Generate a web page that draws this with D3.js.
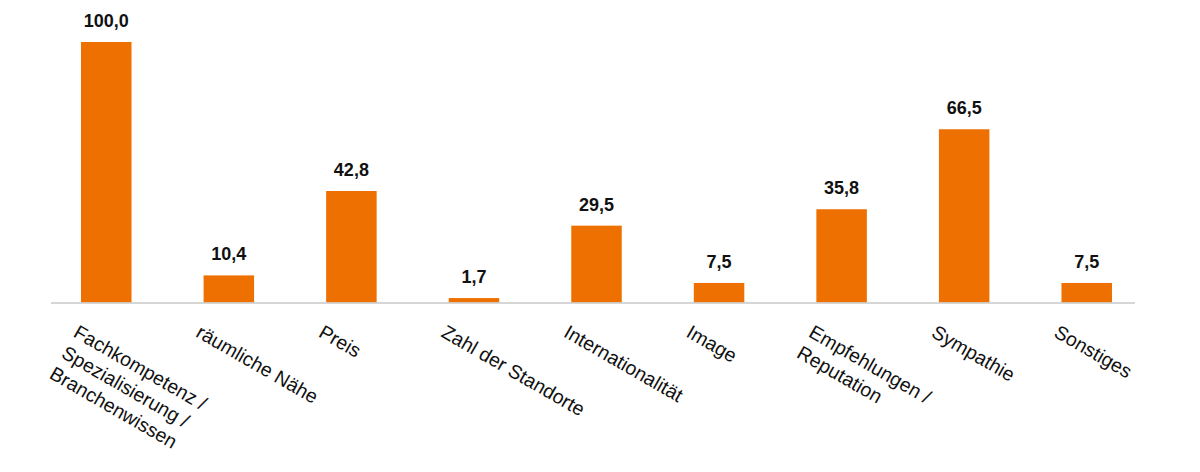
<!DOCTYPE html>
<html>
<head>
<meta charset="utf-8">
<script src="https://cdn.jsdelivr.net/npm/d3@7"></script>
<style>
  body { margin: 0; background: #fff; }
  text { font-family: 'Liberation Sans', Arial, Helvetica, sans-serif; }
</style>
</head>
<body>
<div id="chart"></div>
<script>
const categories = [
  ['Fachkompetenz /', 'Spezialisierung /', 'Branchenwissen'],
  ['räumliche Nähe'],
  ['Preis'],
  ['Zahl der Standorte'],
  ['Internationalität'],
  ['Image'],
  ['Empfehlungen /', 'Reputation'],
  ['Sympathie'],
  ['Sonstiges']
]
const values = [100.0, 10.4, 42.8, 1.7, 29.5, 7.5, 35.8, 66.5, 7.5]

const width = 1200
const height = 472
const baseline = 302.5

const svg = d3.select('#chart').append('svg')
  .attr('width', width)
  .attr('height', height)

const x = d3.scaleBand()
  .domain(d3.range(values.length))
  .range([45, 1148])
  .paddingInner(0.588)
  .paddingOuter(0.294)

const y = d3.scaleLinear()
  .domain([0, 100])
  .range([baseline, 42])

const fmt = v => d3.format('.1f')(v).replace('.', ',')

// bars
svg.selectAll('rect.bar')
  .data(values)
  .enter().append('rect')
  .attr('class', 'bar')
  .attr('x', (d, i) => x(i))
  .attr('y', d => y(d))
  .attr('width', x.bandwidth())
  .attr('height', d => baseline - y(d))
  .attr('fill', '#ee7000')

// baseline
svg.append('line')
  .attr('x1', 51)
  .attr('x2', 1135)
  .attr('y1', baseline + 0.5)
  .attr('y2', baseline + 0.5)
  .attr('stroke', '#c9c9c9')
  .attr('stroke-width', 1.5)

// value labels
svg.selectAll('text.value')
  .data(values)
  .enter().append('text')
  .attr('class', 'value')
  .attr('x', (d, i) => x(i) + x.bandwidth() / 2)
  .attr('y', d => y(d) - 15)
  .attr('text-anchor', 'middle')
  .attr('font-size', '18px')
  .attr('font-weight', 'bold')
  .attr('fill', '#111')
  .text(d => fmt(d))

// category labels, rotated
const labels = svg.selectAll('text.cat')
  .data(categories)
  .enter().append('text')
  .attr('class', 'cat')
  .attr('font-size', '19.5px')
  .attr('fill', '#111')
  .attr('transform', (d, i) => `translate(${x(i) + x.bandwidth() / 2 - 34}, 336) rotate(30)`)

labels.selectAll('tspan')
  .data(d => d)
  .enter().append('tspan')
  .attr('x', 0)
  .attr('dy', (d, j) => j === 0 ? 0 : 24)
  .text(d => d)
</script>
</body>
</html>
